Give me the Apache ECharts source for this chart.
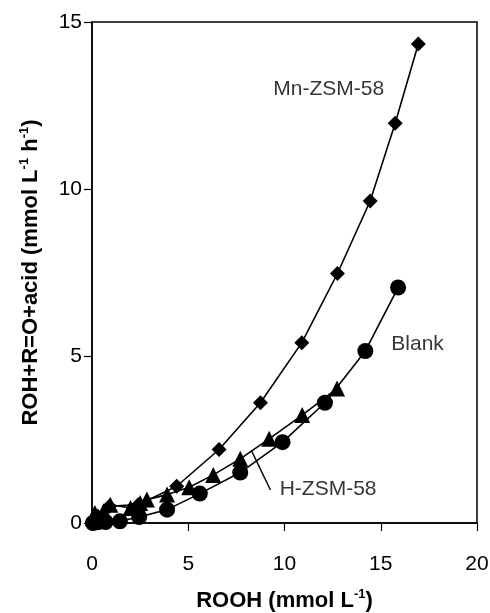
<!DOCTYPE html>
<html>
<head>
<meta charset="utf-8">
<style>
  html, body { margin: 0; padding: 0; background: #fff; }
  #chart { width: 490px; height: 613px; }
</style>
<script src="https://cdn.jsdelivr.net/npm/echarts@6/dist/echarts.min.js"></script>
</head>
<body>
<div id="chart"></div>
<script>
// Product formation vs. hydroperoxide concentration
const xTicks = [0, 5, 10, 15, 20];
const yTicks = [0, 5, 10, 15];

// [ROOH, ROH+R=O+acid]
const mnZsm58 = [
  [0.05, 0.05], [0.3, 0.2], [0.9, 0.5], [2.4, 0.55], [4.4, 1.1], [6.6, 2.2],
  [8.75, 3.6], [10.9, 5.4], [12.75, 7.47], [14.45, 9.64], [15.75, 11.97], [16.95, 14.34]
];
const hZsm58 = [
  [0.05, 0.15], [0.15, 0.3], [0.6, 0.35], [0.95, 0.55], [2.0, 0.45], [2.5, 0.6],
  [2.85, 0.7], [3.9, 0.85], [5.05, 1.07], [6.3, 1.44], [7.7, 1.92], [9.2, 2.52],
  [10.92, 3.23], [12.73, 4.03]
];
const blank = [
  [0.05, 0.0], [0.3, 0.02], [0.7, 0.03], [1.45, 0.05], [2.45, 0.18], [3.9, 0.4],
  [5.6, 0.88], [7.7, 1.51], [9.9, 2.42], [12.1, 3.6], [14.2, 5.15], [15.9, 7.05]
];

// Series captions and the pointer line for the H-ZSM-58 caption
const captions = [
  { name: 'Mn-ZSM-58', at: [12.3, 13.0], align: 'center' },
  { name: 'Blank', at: [15.55, 5.36], align: 'left' },
  { name: 'H-ZSM-58', at: [9.75, 1.02], align: 'left' }
];
const pointer = [[8.29, 2.16], [9.27, 0.99]];

const FONT = '"Liberation Sans", Arial, sans-serif';
const black = '#000';

function lineSeries(name, data, symbol, size) {
  return {
    name, type: 'line', data,
    symbol, symbolSize: size,
    itemStyle: { color: black },
    lineStyle: { color: black, width: 1.6 },
    z: 3
  };
}

const supStyle = {
  fontSize: 13, fontWeight: 'bold', fontFamily: FONT, color: black,
  verticalAlign: 'top', lineHeight: 26, padding: [0, 0, 11, 0]
};

const chart = echarts.init(document.getElementById('chart'), null, { renderer: 'canvas' });
chart.setOption({
  animation: false,
  backgroundColor: '#fff',
  grid: {
    left: 92, top: 22, width: 385, height: 501,
    containLabel: false, outerBoundsMode: 'none',
    show: true, borderColor: black, borderWidth: 1.5, backgroundColor: 'transparent'
  },
  xAxis: {
    type: 'value', min: xTicks[0], max: xTicks[xTicks.length - 1], interval: 5,
    axisLine: { show: true, lineStyle: { color: black, width: 1.5 } },
    axisTick: { show: true, length: 8, lineStyle: { color: black, width: 1.2 } },
    splitLine: { show: false },
    axisLabel: { color: black, fontSize: 21, fontFamily: FONT, margin: 31 },
    name: 'ROOH (mmol L{sup|-1})',
    nameLocation: 'middle', nameGap: 65,
    nameTextStyle: {
      color: black, fontSize: 22, fontWeight: 'bold', fontFamily: FONT, lineHeight: 26,
      rich: { sup: supStyle }
    }
  },
  yAxis: {
    type: 'value', min: yTicks[0], max: yTicks[yTicks.length - 1], interval: 5,
    axisLine: { show: true, lineStyle: { color: black, width: 1.5 } },
    axisTick: { show: true, length: 8, lineStyle: { color: black, width: 1.2 } },
    splitLine: { show: false },
    axisLabel: { color: black, fontSize: 21, fontFamily: FONT, margin: 10 },
    name: 'ROH+R=O+acid (mmol L{sup|-1} h{sup|-1})',
    nameLocation: 'middle', nameGap: 48, nameRotate: 90,
    nameTextStyle: {
      color: black, fontSize: 22, fontWeight: 'bold', fontFamily: FONT, lineHeight: 26,
      rich: { sup: supStyle }
    }
  },
  series: [
    lineSeries('Blank', blank, 'circle', 16),
    lineSeries('H-ZSM-58', hZsm58, 'triangle', 16),
    lineSeries('Mn-ZSM-58', mnZsm58, 'diamond', 15),
    {
      type: 'line', data: pointer, symbol: 'none',
      lineStyle: { color: black, width: 1.4 }, z: 2
    },
    {
      type: 'scatter', symbolSize: 0, z: 4,
      data: captions.map(c => ({
        value: c.at,
        label: {
          show: true, formatter: c.name, position: 'inside', align: c.align,
          color: black, fontSize: 21, fontFamily: FONT, textBorderWidth: 0
        }
      }))
    }
  ]
});
</script>
</body>
</html>
